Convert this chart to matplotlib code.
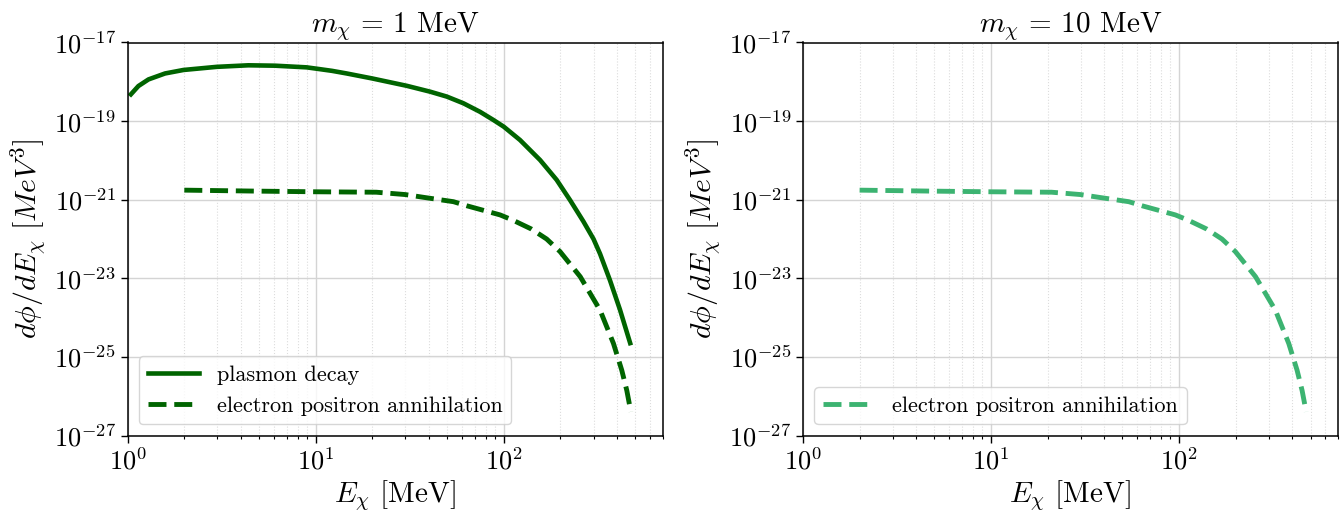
import matplotlib
matplotlib.use("Agg")
import matplotlib.pyplot as plt
import numpy as np

plt.rcParams['font.family'] = 'serif'
plt.rcParams['font.serif'] = ['cmr10', 'DejaVu Serif']
plt.rcParams['mathtext.fontset'] = 'cm'
plt.rcParams['axes.formatter.use_mathtext'] = True
plt.rcParams['axes.unicode_minus'] = False

# ---- data ----
E_plasmon = [1.04, 1.14, 1.29, 1.58, 1.98, 2.97, 4.38, 6.07, 8.95, 10.5, 12.2, 14.6,
             19.9, 30.5, 40.6, 49.8, 61, 74.8, 88, 100, 122, 156, 191, 225,
             265, 300, 325, 367, 415, 470]
flux_plasmon = [4.8e-19, 7.8e-19, 1.15e-18, 1.63e-18, 2.0e-18, 2.4e-18, 2.63e-18,
                2.57e-18, 2.33e-18, 2.1e-18, 1.9e-18, 1.63e-18, 1.22e-18, 7.9e-19,
                5.6e-19, 4.2e-19, 2.84e-19, 1.72e-19, 1.07e-19, 7.2e-20,
                3.3e-20, 1.02e-20, 3.2e-21, 9.8e-22, 2.8e-22, 1.0e-22, 4.2e-23,
                8.9e-24, 1.58e-24, 2.24e-25]

E_annih = [2, 5, 10, 21, 30, 37.4, 54, 63.6, 95.6, 112, 140, 169, 199, 255, 325,
           383, 424, 451, 474]
flux_annih = [1.75e-21, 1.65e-21, 1.59e-21, 1.55e-21, 1.35e-21, 1.15e-21, 8.9e-22,
              7.0e-22, 4.1e-22, 3.0e-22, 1.8e-22, 1.0e-22, 4.8e-23, 1.1e-23,
              1.55e-24, 2.2e-25, 4.6e-26, 1.4e-26, 4.0e-27]

titles = [r'$m_\chi\,=\,1$ MeV', r'$m_\chi\,=\,10$ MeV']
yticks = [1e-27, 1e-25, 1e-23, 1e-21, 1e-19, 1e-17]

fig = plt.figure(figsize=(13.43, 5.13), dpi=100)
W, H = 1343, 513
ax1 = fig.add_axes([127.7 / W, 1 - 435.5 / H, 535 / W, 393 / H])
ax2 = fig.add_axes([803 / W, 1 - 435.5 / H, 535 / W, 393 / H])

ax1.plot(E_plasmon, flux_plasmon, color='darkgreen', lw=3.3, label='plasmon decay')
ax1.plot(E_annih, flux_annih, color='darkgreen', lw=3.5, ls='--',
         label='electron positron annihilation')
ax2.plot(E_annih, flux_annih, color='mediumseagreen', lw=3.5, ls='--',
         label='electron positron annihilation')

for ax, t in zip([ax1, ax2], titles):
    ax.set_xscale('log')
    ax.set_yscale('log')
    ax.set_xlim(1, 700)
    ax.set_ylim(1e-27, 1e-17)
    ax.set_yticks(yticks)
    ax.yaxis.set_minor_locator(matplotlib.ticker.NullLocator())
    ax.grid(True, which='major', color='#d4d4d4', lw=1.0, ls='-')
    ax.grid(True, which='minor', axis='x', color='#dcdcdc', lw=0.8, ls=':')
    ax.set_axisbelow(True)
    ax.tick_params(which='major', length=5, width=1.0, labelsize=19)
    ax.tick_params(which='minor', length=2.5, width=0.8)
    for s in ax.spines.values():
        s.set_linewidth(1.1)
    ax.set_title(t, fontsize=21, pad=6)
    ax.set_xlabel(r'$E_\chi$ [MeV]', fontsize=21, labelpad=3)
    ax.set_ylabel(r'$d\phi/dE_\chi\ [MeV^3]$', fontsize=21.5, labelpad=4)
    leg = ax.legend(loc='lower left', fontsize=16, handlelength=2.3,
                    edgecolor='#cccccc', framealpha=0.8)

fig.savefig('out.png', dpi=100)
